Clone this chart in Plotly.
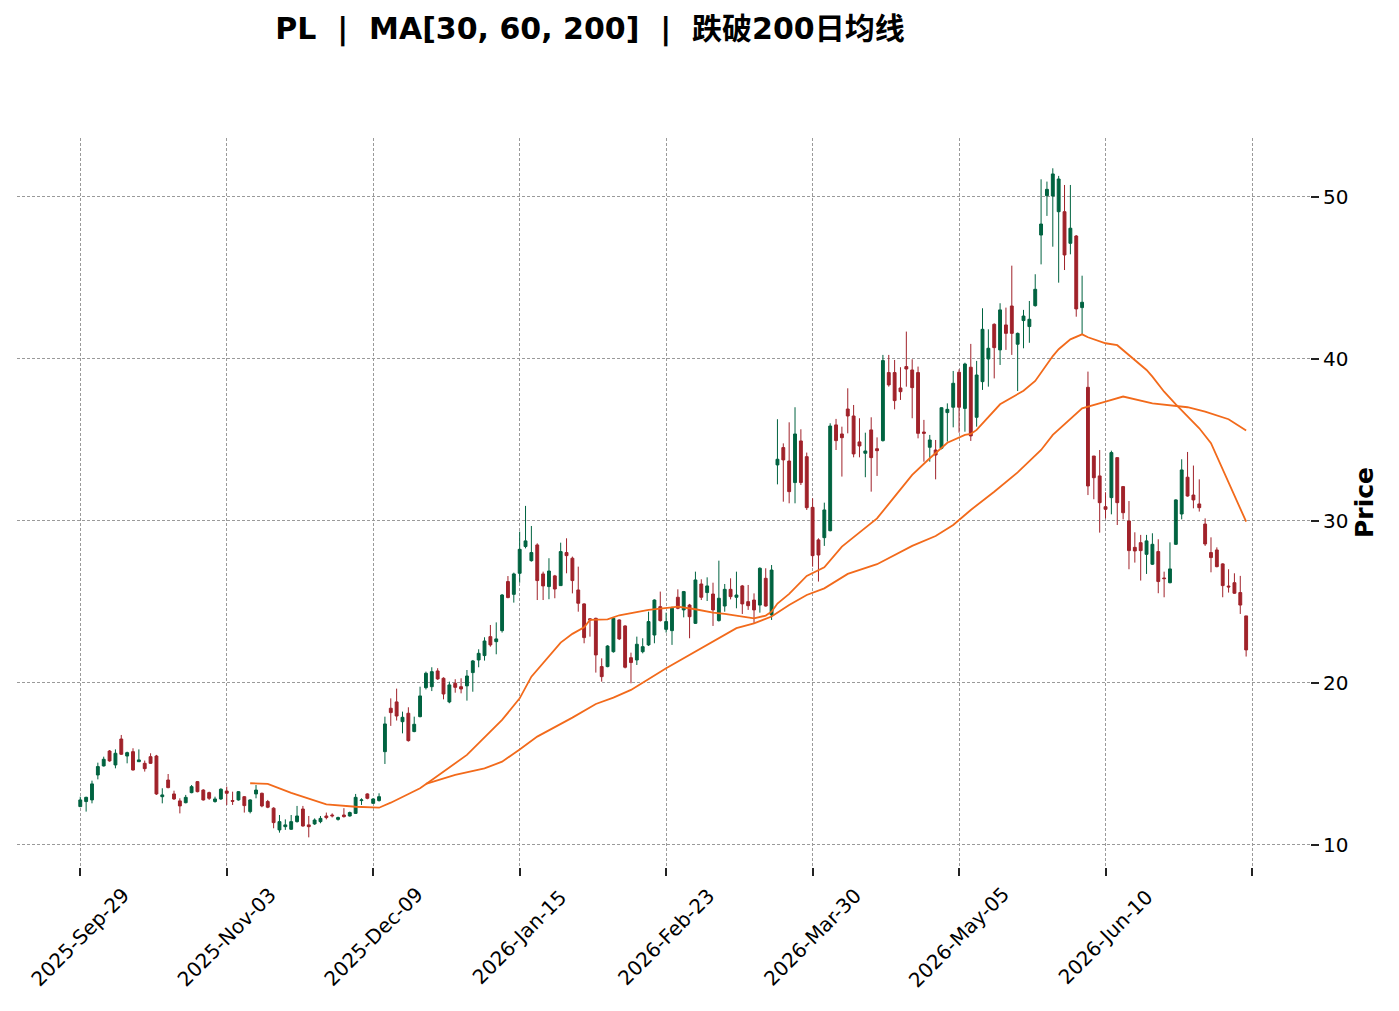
import plotly.graph_objects as go

# daily OHLC for PL (bar index 0..199)
opens = [12.37, 12.68, 12.78, 14.32, 14.88, 15.80, 14.94, 16.54, 15.49, 15.76,
         15.14, 15.04, 15.45, 15.49, 12.98, 14.01, 13.15, 12.72, 12.61, 13.23,
         13.91, 13.39, 13.23, 12.68, 12.84, 13.33, 12.74, 12.78, 12.98, 12.06,
         13.15, 13.19, 12.68, 12.27, 10.93, 11.13, 10.97, 11.44, 12.22, 11.24,
         11.30, 11.44, 11.79, 11.85, 11.58, 11.85, 11.79, 11.95, 12.74, 13.15,
         12.57, 12.74, 15.76, 18.44, 18.83, 17.61, 18.13, 17.00, 17.92, 19.71,
         19.77, 20.74, 20.29, 18.83, 19.98, 19.77, 19.82, 20.64, 21.42, 21.69,
         22.86, 22.55, 23.23, 26.26, 25.47, 26.77, 28.42, 27.55, 28.52, 26.73,
         25.95, 26.61, 26.01, 28.05, 27.70, 25.74, 24.88, 23.96, 23.99, 21.01,
         21.01, 21.93, 23.89, 23.52, 21.56, 21.42, 21.93, 22.35, 22.96, 24.71,
         23.31, 23.23, 25.29, 24.51, 24.81, 23.68, 26.11, 25.58, 25.49, 23.85,
         24.75, 25.78, 25.29, 25.99, 25.02, 25.12, 24.81, 26.46, 24.20, 33.46,
         34.53, 33.70, 32.37, 34.94, 33.97, 30.84, 28.83, 28.97, 29.40, 35.93,
         35.37, 36.91, 36.48, 34.88, 34.18, 35.62, 34.46, 34.96, 39.16, 39.16,
         38.21, 39.53, 39.32, 39.16, 35.49, 34.55, 34.38, 34.49, 36.69, 37.02,
         39.18, 36.95, 39.49, 36.40, 38.60, 40.00, 42.14, 40.56, 42.10, 43.27,
         40.91, 42.37, 42.00, 43.29, 47.65, 50.08, 50.06, 49.09, 49.09, 47.14,
         47.59, 43.17, 38.25, 34.01, 32.78, 30.88, 31.44, 33.91, 32.12, 30.00,
         28.37, 28.66, 27.94, 27.33, 28.11, 26.48, 26.19, 28.56, 30.43, 32.70,
         31.60, 31.05, 29.81, 28.05, 28.21, 27.35, 25.98, 26.19, 25.58, 24.14]
highs = [12.98, 12.98, 13.97, 15.08, 15.45, 15.86, 15.90, 16.79, 15.76, 15.97,
         15.90, 15.21, 15.66, 15.56, 13.50, 14.38, 13.35, 12.88, 13.09, 13.70,
         13.95, 13.44, 13.29, 12.98, 13.50, 13.60, 13.29, 13.33, 13.02, 12.82,
         13.70, 13.23, 12.78, 12.33, 11.85, 11.58, 11.85, 12.41, 12.41, 11.79,
         11.64, 11.79, 12.00, 11.95, 11.75, 12.27, 12.06, 13.15, 12.88, 13.19,
         12.88, 13.19, 17.92, 19.05, 19.65, 18.23, 18.50, 17.92, 19.77, 20.70,
         20.97, 20.91, 20.35, 20.08, 20.23, 20.29, 20.80, 21.42, 22.08, 22.82,
         23.58, 23.74, 25.49, 26.60, 26.81, 29.34, 30.93, 29.69, 28.62, 26.87,
         27.70, 26.67, 28.66, 28.93, 27.80, 27.18, 24.92, 24.00, 24.03, 21.52,
         22.33, 24.05, 23.93, 23.56, 21.87, 22.86, 22.76, 24.40, 25.16, 25.64,
         24.34, 24.71, 25.78, 25.68, 24.88, 26.87, 26.40, 26.52, 26.19, 27.55,
         26.11, 26.46, 26.87, 26.05, 26.05, 25.53, 27.14, 27.08, 27.28, 36.28,
         34.79, 36.09, 37.02, 35.66, 34.22, 31.40, 28.93, 31.13, 36.03, 36.30,
         35.82, 38.19, 37.16, 36.34, 35.45, 36.40, 35.16, 40.25, 40.25, 39.94,
         39.49, 41.69, 39.98, 39.53, 36.24, 35.31, 35.00, 37.02, 37.26, 39.26,
         39.36, 39.77, 40.93, 39.88, 43.13, 41.83, 42.20, 43.44, 43.17, 45.76,
         41.63, 43.03, 43.58, 45.23, 51.09, 50.95, 51.77, 51.30, 50.74, 50.74,
         47.65, 45.14, 39.22, 34.01, 34.38, 31.77, 34.34, 33.91, 32.16, 31.23,
         29.30, 29.14, 29.14, 29.24, 28.87, 26.87, 28.68, 31.34, 33.81, 34.26,
         33.42, 32.57, 30.16, 28.99, 28.37, 27.39, 27.02, 26.77, 26.61, 24.14]
lows = [12.33, 12.06, 12.57, 14.05, 14.84, 15.14, 14.73, 15.56, 15.04, 14.59,
        15.14, 14.53, 15.00, 13.09, 12.57, 13.50, 12.78, 11.95, 12.57, 13.19,
        13.25, 12.74, 12.78, 12.61, 12.78, 12.47, 12.47, 12.74, 12.00, 11.95,
        12.88, 12.33, 12.27, 11.03, 10.76, 10.93, 10.93, 11.38, 11.13, 10.47,
        11.24, 11.34, 11.58, 11.70, 11.50, 11.69, 11.75, 11.91, 12.47, 12.82,
        12.53, 12.68, 15.00, 17.35, 17.68, 16.89, 16.38, 16.96, 17.88, 19.60,
        19.50, 20.19, 18.99, 18.75, 19.40, 19.36, 18.91, 19.46, 20.97, 21.38,
        22.24, 21.77, 23.11, 25.23, 24.96, 26.19, 28.31, 27.49, 25.12, 25.12,
        25.17, 25.23, 25.99, 26.77, 25.53, 24.40, 22.45, 22.86, 20.64, 20.08,
        20.97, 21.87, 22.65, 20.90, 19.98, 21.11, 21.83, 22.28, 22.45, 23.79,
        23.11, 22.35, 24.55, 24.05, 22.76, 23.64, 25.12, 25.06, 23.52, 23.79,
        24.40, 25.16, 24.61, 24.26, 24.51, 23.68, 24.34, 24.71, 23.89, 32.26,
        31.19, 31.09, 31.09, 32.22, 30.68, 27.18, 26.26, 28.46, 29.36, 34.38,
        32.74, 35.41, 33.93, 33.93, 32.70, 31.81, 32.78, 34.90, 38.29, 36.89,
        37.47, 38.29, 36.34, 35.10, 33.66, 33.66, 32.57, 34.42, 34.90, 35.78,
        35.45, 35.51, 34.94, 35.82, 38.09, 38.29, 38.80, 39.63, 40.56, 40.25,
        38.02, 40.66, 41.00, 43.23, 45.84, 48.83, 46.93, 44.71, 45.49, 46.46,
        42.61, 41.54, 31.60, 31.34, 29.28, 30.16, 30.41, 29.75, 30.10, 27.02,
        27.43, 26.32, 26.73, 27.28, 25.54, 25.29, 26.15, 28.52, 30.10, 31.50,
        30.78, 30.58, 28.46, 26.83, 27.14, 25.29, 25.58, 25.50, 24.26, 21.63]
closes = [12.78, 12.94, 13.77, 14.84, 15.29, 15.19, 15.66, 15.60, 15.70, 14.63,
          15.25, 14.71, 15.04, 13.15, 13.09, 13.54, 12.84, 12.41, 12.94, 13.60,
          13.29, 12.78, 12.88, 12.84, 13.44, 13.19, 12.70, 13.29, 12.43, 12.78,
          13.39, 12.41, 12.33, 11.38, 11.44, 11.24, 11.44, 11.79, 11.17, 11.13,
          11.54, 11.64, 11.69, 11.80, 11.69, 11.75, 12.00, 12.94, 12.78, 12.88,
          12.84, 12.98, 17.47, 18.17, 17.96, 17.88, 16.44, 17.45, 19.20, 20.60,
          20.70, 20.25, 19.32, 19.88, 19.73, 19.63, 20.43, 21.36, 21.83, 22.59,
          22.35, 22.72, 25.43, 25.27, 26.73, 28.25, 28.77, 28.05, 26.32, 25.99,
          26.91, 25.80, 28.11, 27.86, 26.32, 24.92, 22.80, 23.90, 21.73, 20.39,
          22.28, 23.99, 22.72, 20.97, 21.26, 22.39, 22.24, 23.79, 25.12, 23.85,
          23.79, 24.61, 24.61, 25.64, 24.09, 26.36, 25.29, 25.99, 24.51, 25.23,
          25.78, 25.33, 25.43, 24.88, 24.77, 24.51, 27.08, 24.75, 26.97, 33.81,
          33.77, 31.81, 35.37, 32.37, 30.82, 27.86, 27.90, 30.68, 35.86, 34.96,
          35.14, 36.48, 34.14, 34.63, 34.32, 33.91, 34.34, 39.90, 38.40, 37.43,
          37.98, 39.38, 38.23, 35.41, 35.41, 35.00, 34.07, 36.99, 36.89, 38.50,
          37.02, 39.69, 35.25, 39.01, 41.83, 40.66, 40.70, 43.03, 41.58, 41.58,
          41.58, 42.65, 42.45, 44.30, 48.33, 50.47, 51.42, 51.11, 46.42, 48.07,
          43.09, 43.50, 32.16, 32.67, 31.13, 30.72, 34.22, 31.13, 30.51, 28.17,
          28.15, 28.17, 28.77, 28.56, 26.26, 26.44, 27.04, 31.30, 33.15, 31.54,
          31.30, 30.82, 28.58, 27.74, 27.18, 26.01, 25.93, 25.54, 24.81, 22.04]

# moving averages as drawn on the reference (bar index, value)
ma30_idx = [29, 32, 36, 40, 42, 47, 51, 53, 58, 60, 66, 72, 75, 77, 80, 82, 84,
            86, 87, 90, 92, 97, 101, 102, 105, 108, 110, 113, 115, 117, 118, 119,
            120, 121, 124, 127, 130, 134, 136, 139, 142, 145, 148, 151, 152, 153,
            157, 161, 163, 166, 167, 169, 171, 172, 175, 177, 178, 180, 182, 183,
            185, 187, 189, 191, 193, 195, 197, 199]
ma30_val = [13.81, 13.77, 13.22, 12.76, 12.51, 12.36, 12.30, 12.61, 13.50, 14.01,
            15.56, 17.72, 19.05, 20.39, 21.63, 22.49, 23.03, 23.44, 23.89, 23.93,
            24.18, 24.51, 24.67, 24.71, 24.55, 24.34, 24.26, 24.10, 23.99, 24.16,
            24.40, 24.90, 25.20, 25.50, 26.61, 27.14, 28.42, 29.61, 30.16, 31.50,
            32.84, 33.87, 34.83, 35.31, 35.37, 35.62, 37.20, 38.04, 38.64, 40.18,
            40.60, 41.21, 41.52, 41.34, 40.97, 40.85, 40.55, 39.95, 39.32, 38.91,
            37.98, 37.20, 36.44, 35.72, 34.80, 33.15, 31.50, 29.96]
ma60_idx = [59, 64, 69, 72, 75, 78, 84, 88, 91, 94, 100, 106, 112, 115, 118, 121,
            124, 127, 131, 136, 142, 146, 149, 152, 156, 160, 164, 166, 169, 171,
            175, 178, 183, 187, 189, 192, 196, 199]
ma60_val = [13.77, 14.32, 14.73, 15.14, 15.90, 16.69, 17.86, 18.70, 19.10, 19.57,
            20.91, 22.14, 23.38, 23.68, 24.10, 24.81, 25.43, 25.84, 26.73, 27.33,
            28.46, 29.07, 29.75, 30.68, 31.80, 33.00, 34.38, 35.31, 36.33, 36.95,
            37.37, 37.68, 37.26, 37.12, 37.02, 36.75, 36.28, 35.58]

tick_pos = [0, 25, 50, 75, 100, 125, 150, 175, 200]
tick_labels = ["2025-Sep-29", "2025-Nov-03", "2025-Dec-09", "2026-Jan-15",
               "2026-Feb-23", "2026-Mar-30", "2026-May-05", "2026-Jun-10", ""]

UP = "#006340"
DOWN = "#a0222a"
MA_COLOR = "#f26a1b"
GRID = "#9a9a9a"
FONT = "DejaVu Sans, Noto Sans CJK SC, sans-serif"
NB = "\u00a0"  # keep the double spaces of the title

# page has an 8px body margin, so the figure is a bit smaller than the window
W, H = 1383, 995
plot_top, plot_bottom = 130, 859

fig = go.Figure()
fig.add_trace(go.Candlestick(
    x=list(range(len(opens))),
    open=opens, high=highs, low=lows, close=closes,
    increasing=dict(line=dict(color=UP, width=1), fillcolor=UP),
    decreasing=dict(line=dict(color=DOWN, width=1), fillcolor=DOWN),
    whiskerwidth=0,
    showlegend=False,
    name="PL",
))
fig.add_trace(go.Scatter(x=ma30_idx, y=ma30_val, mode="lines",
                         line=dict(color=MA_COLOR, width=1.8),
                         name="MA30", showlegend=False))
fig.add_trace(go.Scatter(x=ma60_idx, y=ma60_val, mode="lines",
                         line=dict(color=MA_COLOR, width=1.8),
                         name="MA60", showlegend=False))

title = f"<b>PL{NB}{NB}|{NB}{NB}MA[30, 60, 200]{NB}{NB}|{NB}{NB}跌破200日均线</b>"
fig.update_layout(
    width=W, height=H,
    margin=dict(l=9, r=81, t=plot_top, b=H - plot_bottom),
    paper_bgcolor="white", plot_bgcolor="white",
    font=dict(family=FONT, size=20, color="black"),
    title=dict(text=title, x=582 / W, xanchor="center",
               y=1 - 20 / H, yanchor="middle",
               font=dict(size=30, family=FONT)),
)

# x tick labels centred under the ticks, rotated 45 degrees
label_y = -(929 - plot_bottom) / (plot_bottom - plot_top)
for pos, lab in zip(tick_pos, tick_labels):
    if lab:
        fig.add_annotation(x=pos, xref="x", y=label_y, yref="paper", text=lab,
                           textangle=-45, showarrow=False, xanchor="center",
                           yanchor="middle", font=dict(size=20))

fig.update_xaxes(
    range=[-10.8, 209.9],
    tickmode="array", tickvals=tick_pos, ticktext=[""] * len(tick_pos),
    ticks="outside", ticklen=8, tickwidth=1.5, tickcolor="#222",
    showgrid=True, gridcolor=GRID, griddash="3px,2px", gridwidth=0.7,
    zeroline=False, showline=False,
    rangeslider=dict(visible=False),
)
fig.update_yaxes(
    side="right",
    range=[8.64, 53.64],
    tickmode="array", tickvals=[10, 20, 30, 40, 50],
    ticks="outside", ticklen=8, tickwidth=1.5, tickcolor="#222",
    showgrid=True, gridcolor=GRID, griddash="3px,2px", gridwidth=0.7,
    zeroline=False, showline=False,
    title=dict(text="<b>Price</b>", font=dict(size=25), standoff=8),
)

fig.write_html("out.html")
